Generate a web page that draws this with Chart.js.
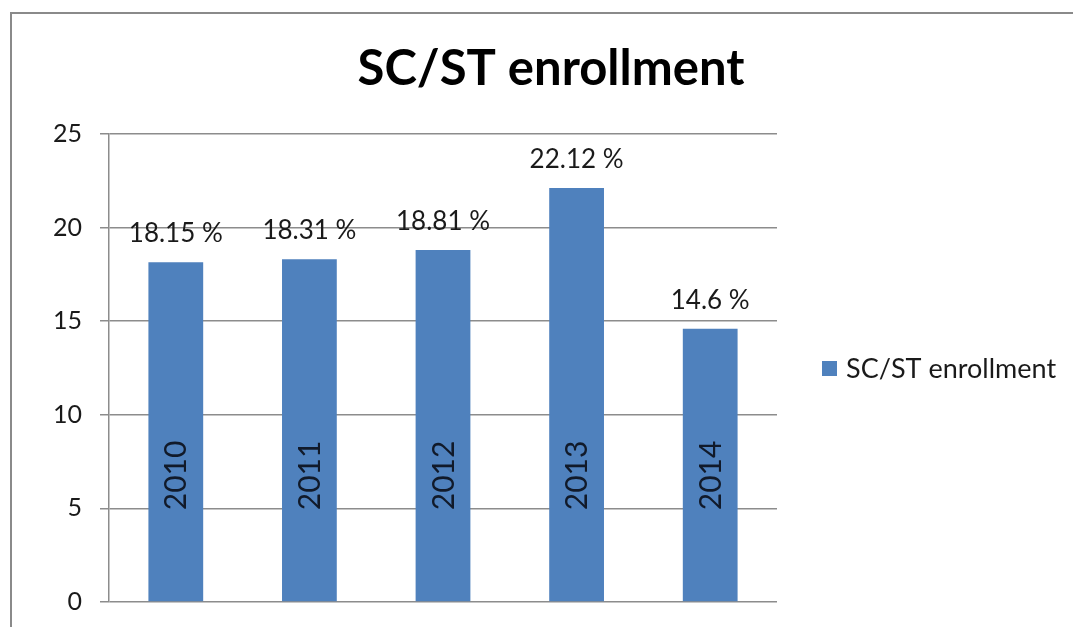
<!DOCTYPE html>
<html>
<head>
<meta charset="utf-8">
<script src="https://cdn.jsdelivr.net/npm/chart.js@4/dist/chart.umd.min.js"></script>
<style>
  html, body { margin: 0; padding: 0; background: #fff; }
  #wrap { width: 1073px; height: 627px; position: relative; }
</style>
</head>
<body>
<div id="wrap"><canvas id="c" width="1073" height="627"></canvas></div>
<script>
const categories = ['2010', '2011', '2012', '2013', '2014'];
const enrollment = [18.15, 18.31, 18.81, 22.12, 14.6];
const valueLabels = ['18.15 %', '18.31 %', '18.81 %', '22.12 %', '14.6 %'];
const seriesName = 'SC/ST enrollment';
const chartTitle = 'SC/ST enrollment';

const FONT = 'Lato, "Open Sans", sans-serif';
const BAR_COLOR = '#4f81bd';

const frame = {
  id: 'frame',
  beforeDraw(chart) {
    const ctx = chart.ctx;
    ctx.save();
    ctx.fillStyle = '#fff';
    ctx.fillRect(0, 0, chart.width, chart.height);
    ctx.strokeStyle = '#8a8a8a';
    ctx.lineWidth = 2;
    ctx.beginPath();
    ctx.moveTo(11, chart.height);
    ctx.lineTo(11, 13);
    ctx.lineTo(chart.width, 13);
    ctx.stroke();
    ctx.fillStyle = '#000';
    ctx.font = 'bold 49px ' + FONT;
    ctx.textAlign = 'center';
    ctx.textBaseline = 'middle';
    ctx.fillText(chartTitle, 551, 69);
    ctx.restore();
  }
};

const labelsPlugin = {
  id: 'barLabels',
  afterDatasetsDraw(chart) {
    const ctx = chart.ctx;
    const meta = chart.getDatasetMeta(0);
    ctx.save();
    meta.data.forEach((bar, i) => {
      ctx.fillStyle = '#1a1a1a';
      ctx.font = '26px ' + FONT;
      ctx.textAlign = 'center';
      ctx.textBaseline = 'alphabetic';
      ctx.fillText(valueLabels[i], bar.x, bar.y - 20);
      ctx.save();
      ctx.translate(bar.x, bar.base - 91);
      ctx.rotate(-Math.PI / 2);
      ctx.font = '30px ' + FONT;
      ctx.fillStyle = '#111a2a';
      ctx.textAlign = 'left';
      ctx.textBaseline = 'middle';
      ctx.fillText(categories[i], 0, 1);
      ctx.restore();
    });
    ctx.restore();
  }
};

const sideLegend = {
  id: 'sideLegend',
  afterDraw(chart) {
    const ctx = chart.ctx;
    const area = chart.chartArea;
    const cy = (area.top + area.bottom) / 2;
    const x0 = area.right + 45;
    ctx.save();
    ctx.fillStyle = chart.data.datasets[0].backgroundColor;
    ctx.fillRect(x0, cy - 7, 15, 15);
    ctx.fillStyle = '#1a1a1a';
    ctx.font = '27px ' + FONT;
    ctx.textAlign = 'left';
    ctx.textBaseline = 'middle';
    ctx.fillText(chart.data.datasets[0].label, x0 + 24, cy + 1);
    ctx.restore();
  }
};

new Chart(document.getElementById('c'), {
  type: 'bar',
  data: {
    labels: categories,
    datasets: [{
      label: seriesName,
      data: enrollment,
      backgroundColor: BAR_COLOR,
      borderWidth: 0,
      barPercentage: 0.41,
      categoryPercentage: 1.0
    }]
  },
  options: {
    responsive: false,
    animation: false,
    devicePixelRatio: 1,
    layout: { padding: { left: 35, right: 296, top: 134, bottom: 25 } },
    plugins: {
      title: { display: false },
      legend: { display: false },
      tooltip: { enabled: false }
    },
    scales: {
      x: {
        display: false,
        grid: { display: false, drawTicks: false },
        border: { display: false },
        ticks: { display: false }
      },
      y: {
        min: 0,
        max: 25,
        ticks: {
          stepSize: 5,
          color: '#1a1a1a',
          font: { family: FONT, size: 25, lineHeight: 0.5 },
          padding: 18
        },
        grid: {
          color: '#8c8c8c',
          lineWidth: 1.5,
          tickLength: 9
        },
        border: { display: true, color: '#8c8c8c', width: 1.5 }
      }
    }
  },
  plugins: [frame, labelsPlugin, sideLegend]
});
</script>
</body>
</html>
